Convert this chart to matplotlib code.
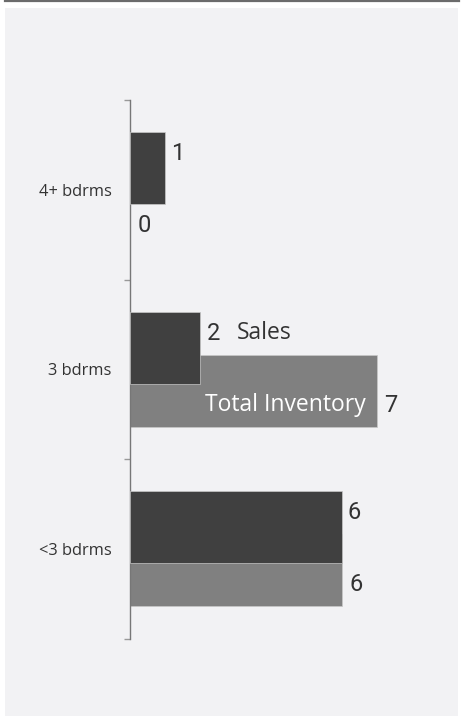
import matplotlib
matplotlib.use("Agg")
import matplotlib.pyplot as plt
from matplotlib.patches import Rectangle
from matplotlib.lines import Line2D
import numpy as np

categories = ["4+ bdrms", "3 bdrms", "<3 bdrms"]
sales = [1, 2, 6]
inventory = [0, 7, 6]

DARK = "#404040"
GRAY = "#808080"
TEXT = "#333333"

plt.rcParams["font.family"] = ["Roboto", "DejaVu Sans"]
LABEL_FONT = ["Open Sans", "DejaVu Sans"]

W, H = 463, 716
fig = plt.figure(figsize=(W / 100, H / 100), dpi=100, facecolor="white")

# light panel + rule on top
fig.patches.append(Rectangle((5 / W, 0), 453 / W, (H - 8) / H,
                             transform=fig.transFigure, facecolor="#f2f2f4",
                             edgecolor="none", zorder=-10))
fig.lines.append(Line2D([5 / W, 459 / W], [1 - 1 / H, 1 - 1 / H],
                        transform=fig.transFigure, color="#6b6b6b", lw=1.6,
                        zorder=-5))

ax = fig.add_axes([129.5 / W, 77.5 / H, 318 / W, 538.5 / H])
ax.set_facecolor("none")

y = np.arange(len(categories))
off, h = 0.12, 0.40

ax.barh(y + off, inventory, height=h, color=GRAY, edgecolor="#c8c8c8",
        linewidth=0.5, zorder=2)
ax.barh(y - off, sales, height=h, color=DARK, edgecolor="#c8c8c8",
        linewidth=0.5, zorder=3)

ax.set_xlim(0, 9)
ax.set_ylim(len(categories) - 0.5, -0.5)

for i in range(len(categories)):
    ax.annotate(str(sales[i]), (sales[i], y[i] - 0.2), xytext=(4.5, 0),
                textcoords="offset points", va="center", ha="left",
                fontsize=17, color=TEXT)
    ax.annotate(str(inventory[i]), (inventory[i], y[i] + 0.2), xytext=(5.5, 0),
                textcoords="offset points", va="center", ha="left",
                fontsize=17, color=TEXT)

# inline series labels on the 3 bdrms row
ax.annotate("Sales", (sales[1], y[1] - 0.2), xytext=(26.5, 0),
            textcoords="offset points", va="center", ha="left",
            fontsize=16.5, color=TEXT, family=LABEL_FONT)
ax.annotate("Total Inventory", (inventory[1], y[1] + 0.2), xytext=(-8, 0),
            textcoords="offset points", va="center", ha="right",
            fontsize=16.5, color="white", zorder=4, family=LABEL_FONT)

for s in ["top", "right", "bottom"]:
    ax.spines[s].set_visible(False)
ax.spines["left"].set_color("#777777")
ax.spines["left"].set_linewidth(1.0)

ax.set_xticks([])
ax.set_yticks(y)
ax.set_yticklabels(categories, fontsize=11.8, color=TEXT, family=LABEL_FONT)
ax.tick_params(axis="y", which="major", length=0, pad=13)
ax.set_yticks(np.arange(-0.5, len(categories)), minor=True)
ax.tick_params(axis="y", which="minor", length=4.5, color="#999999", width=1)

fig.savefig("out.png", dpi=100, facecolor="white")
